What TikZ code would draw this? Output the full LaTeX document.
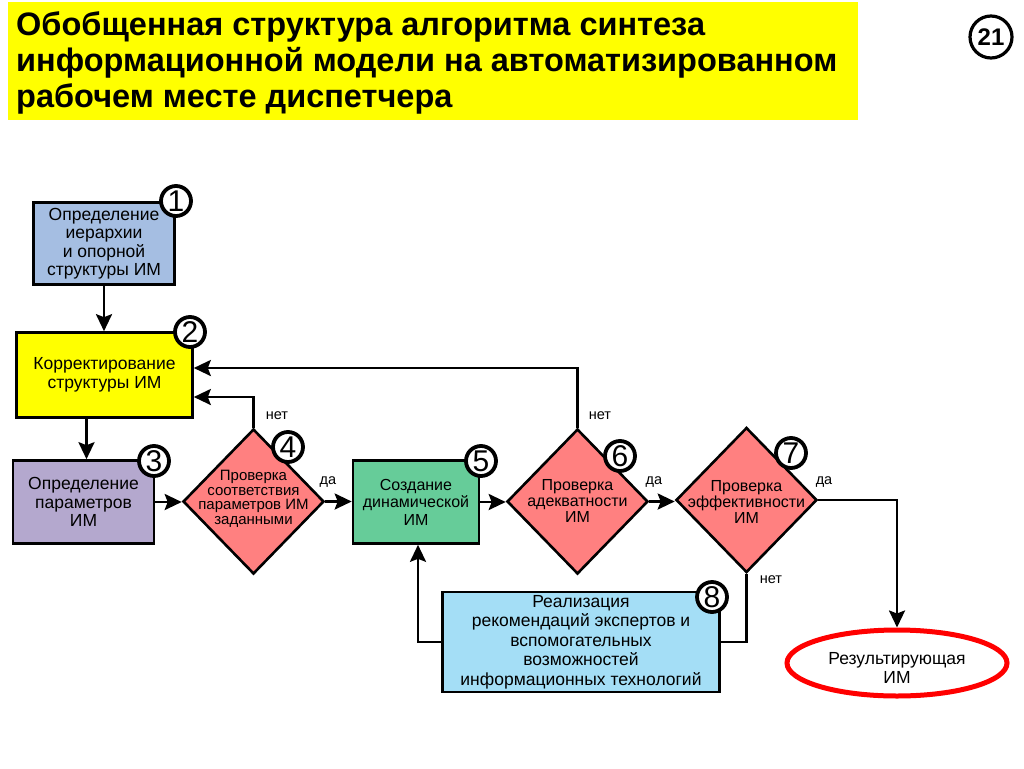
\documentclass[tikz,border=0pt]{standalone}
\usepackage{fontspec}
\setmainfont{Liberation Sans}
\usetikzlibrary{shapes.geometric,arrows.meta}
\definecolor{titleyellow}{RGB}{255,255,0}
\definecolor{c1}{RGB}{165,190,226}
\definecolor{c2}{RGB}{255,255,0}
\definecolor{c3}{RGB}{180,168,206}
\definecolor{c5}{RGB}{102,204,153}
\definecolor{c8}{RGB}{164,222,246}
\definecolor{diac}{RGB}{255,128,128}
\begin{document}
\begin{tikzpicture}[x=1pt,y=-1pt,
 box/.style={draw=black,line width=2.6pt,align=center,inner sep=0pt,font=\fontsize{17.5}{18.5}\selectfont},
 dia/.style={diamond,draw=black,line width=2.6pt,fill=diac,inner sep=0pt,minimum width=141pt,minimum height=145pt},
 diatext/.style={align=center,inner sep=0pt},
 badge/.style={circle,draw=black,line width=3.8pt,fill=white,minimum size=30pt,inner sep=0pt,font=\fontsize{30}{30}\selectfont},
 conn/.style={line width=2.6pt},
 arr/.style={conn,-{Stealth[length=17pt,width=16pt,inset=3pt]}},
 lbl/.style={inner sep=0pt,font=\fontsize{14.5}{14.5}\selectfont},
]
\useasboundingbox (0,0) rectangle (1024,768);

% title
\fill[titleyellow] (8,2) rectangle (858,120);
\node (title) [anchor=north west,align=left,inner sep=0pt,font=\fontsize{32.5}{36}\selectfont\bfseries] at (16,11)
 {Обобщенная структура алгоритма синтеза\\информационной модели на автоматизированном\\рабочем месте диспетчера};
\node (page) [circle,draw=black,line width=3.2pt,minimum size=42pt,inner sep=0pt,font=\fontsize{24}{24}\selectfont\bfseries] at (991,37) {21};

% boxes
\node (n1) [box,fill=c1,minimum width=141pt,minimum height=82pt] at (104,243.5)
 {Определение\\иерархии\\и опорной\\структуры ИМ};
\node (n2) [box,fill=c2,minimum width=176pt,minimum height=85pt] at (104.5,375)
 {Корректирование\\структуры ИМ};
\node (n3) [box,fill=c3,minimum width=141pt,minimum height=83pt] at (83.5,502)
 {Определение\\параметров\\ИМ};
\node (n5) [box,fill=c5,minimum width=126pt,minimum height=83pt,font=\fontsize{16}{17.5}\selectfont] at (416,502)
 {Создание\\динамической\\ИМ};
\node (n8) [box,fill=c8,minimum width=277pt,minimum height=100pt,font=\fontsize{17.5}{19.5}\selectfont] at (581,642)
 {Реализация\\рекомендаций экспертов и\\вспомогательных\\возможностей\\информационных технологий};
\node (res) [ellipse,draw=red,line width=5pt,fill=white,minimum width=220pt,minimum height=66pt,inner sep=0pt] at (897,663) {};
\node (rest) [align=center,inner sep=0pt,font=\fontsize{17.5}{19}\selectfont] at (897,668) {Результирующая\\ИМ};

% diamonds
\node (d4) [dia] at (253.5,501.5) {};
\node (d4t) [diatext,font=\fontsize{15}{14.5}\selectfont] at (253.5,499) {Проверка\\соответствия\\параметров ИМ\\заданными};
\node (d6) [dia] at (577.5,501.5) {};
\node (d6t) [diatext,font=\fontsize{16}{16}\selectfont] at (577.5,501) {Проверка\\адекватности\\ИМ};
\node (d7) [dia] at (746.5,500) {};
\node (d7t) [diatext,font=\fontsize{16}{16}\selectfont] at (746.5,502) {Проверка\\эффективности\\ИМ};

% connectors
\draw[arr] (n1.south) -- (n1.south |- n2.north);
\draw[arr] ([xshift=3pt]n3.north |- n2.south) -- ([xshift=3pt]n3.north);
\draw[arr] (n3.east) -- (n3.east -| d4.west);
\draw[arr] (d4.east) -- (d4.east -| n5.west);
\draw[arr] (n5.east) -- (n5.east -| d6.west);
\draw[arr] (d6.east) -- (d6.east -| d7.west);
\draw[arr] (d7.east) -| (res.north);
\draw[arr] (d4.north) |- ([yshift=-22pt]n2.east);
\draw[arr] (d6.north) |- ([yshift=7pt]n2.east);
\draw[conn] (d7.south) |- (n8.east);
\draw[arr] (n8.west) -| ([xshift=2pt]n5.south);

% labels
\node (l4n) [lbl] at (277,416) {нет};
\node (l6n) [lbl] at (600,416) {нет};
\node (l7n) [lbl] at (771,580) {нет};
\node (l4d) [lbl] at (328,482) {да};
\node (l6d) [lbl] at (654,482) {да};
\node (l7d) [lbl] at (824,482) {да};

% badges
\node (b1) [badge] at (176,201) {1};
\node (b2) [badge] at (190,332) {2};
\node (b3) [badge] at (154,461) {3};
\node (b4) [badge] at (288,447) {4};
\node (b5) [badge] at (481,461) {5};
\node (b6) [badge] at (620,456) {6};
\node (b7) [badge] at (791,453) {7};
\node (b8) [badge] at (712,597) {8};
\end{tikzpicture}
\end{document}
